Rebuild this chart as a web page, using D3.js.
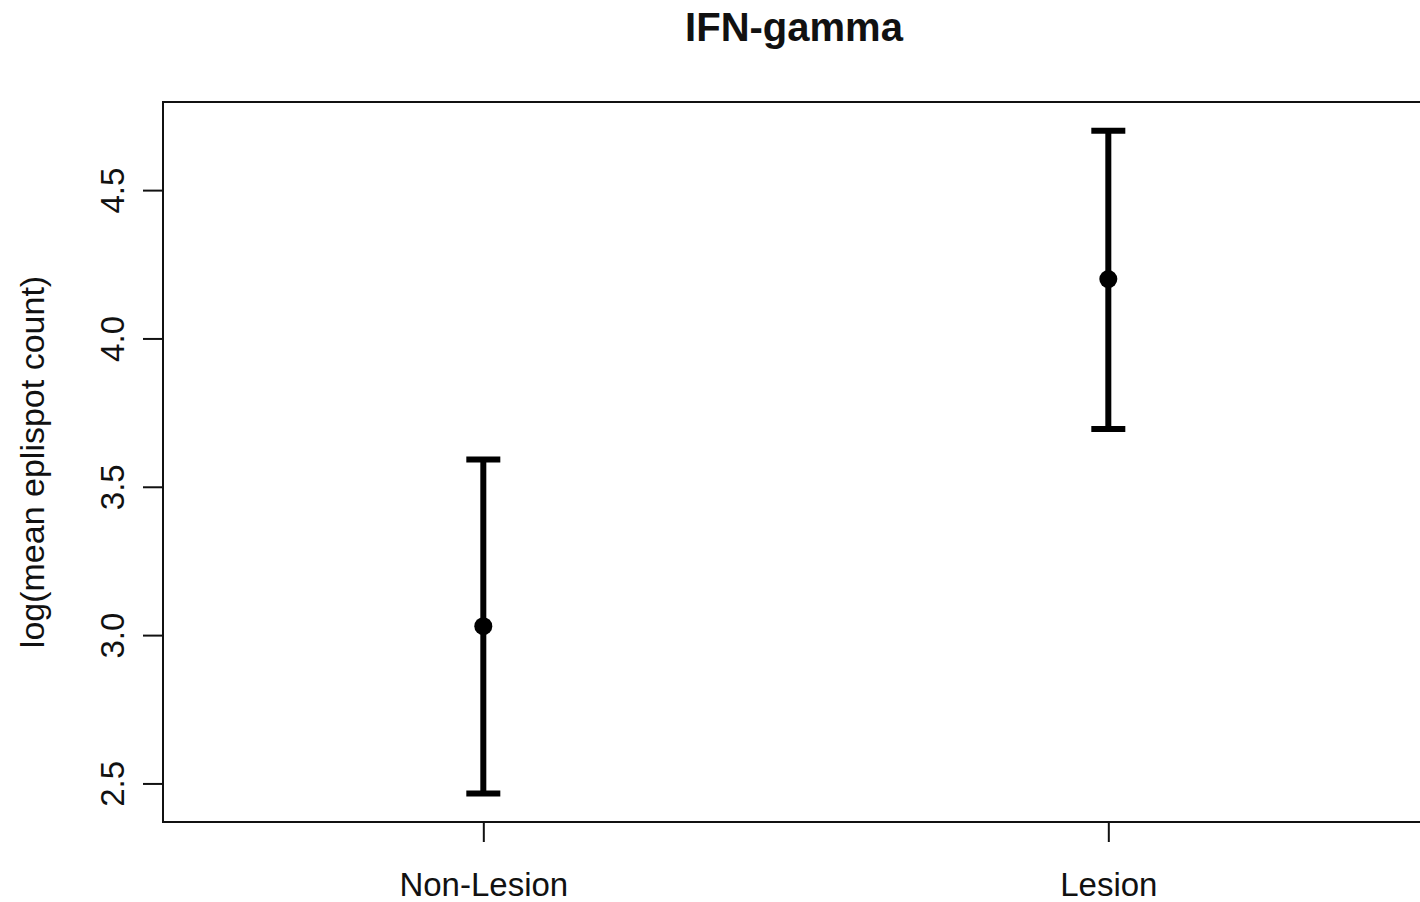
<!DOCTYPE html>
<html>
<head>
<meta charset="utf-8">
<script src="https://cdn.jsdelivr.net/npm/d3@7"></script>
<style>
  html, body { margin: 0; padding: 0; background: #fff; }
  svg { display: block; }
  text { font-family: "Liberation Sans", Arial, sans-serif; fill: #111; }
</style>
</head>
<body>
<svg id="chart" width="1420" height="902"></svg>
<script>
// Group means of log ELISpot counts with their interval bounds
const categories = ["Non-Lesion", "Lesion"];
const means = [3.03, 4.20];
const lower = [2.466, 3.695];
const upper = [3.592, 4.700];
const yTicks = [2.5, 3.0, 3.5, 4.0, 4.5];

const title = "IFN-gamma";
const yLabel = "log(mean eplispot count)";

const svg = d3.select("#chart");
const box = { left: 163, right: 1421, top: 102, bottom: 822 };

const x = d3.scaleLinear()
  .domain([-0.5125, 1.4955])
  .range([box.left, 1418]);
const y = d3.scaleLinear()
  .domain([2.370, 4.797])
  .range([box.bottom, box.top]);

// Plot frame
svg.append("rect")
  .attr("x", box.left).attr("y", box.top)
  .attr("width", box.right - box.left).attr("height", box.bottom - box.top)
  .attr("fill", "none").attr("stroke", "#111").attr("stroke-width", 2);

// Y axis: ticks outside the frame, labels rotated
const yAxis = d3.axisLeft(y).tickValues(yTicks).tickSize(20).tickFormat(d3.format(".1f"));
const gy = svg.append("g").attr("transform", `translate(${box.left},0)`).call(yAxis);
gy.select(".domain").remove();
gy.selectAll(".tick line").attr("stroke", "#111").attr("stroke-width", 2);
gy.selectAll(".tick text")
  .attr("x", null).attr("dy", null)
  .attr("transform", "translate(-39,0) rotate(-90)")
  .attr("text-anchor", "middle")
  .style("font-size", "33px")
  .style("font-family", "Liberation Sans, Arial, sans-serif")
  .attr("fill", "#111");

// X axis: category ticks
const xAxis = d3.axisBottom(x).tickValues(d3.range(categories.length))
  .tickSize(20).tickFormat(i => categories[i]);
const gx = svg.append("g").attr("transform", `translate(0,${box.bottom})`).call(xAxis);
gx.select(".domain").remove();
gx.selectAll(".tick line").attr("stroke", "#111").attr("stroke-width", 2);
gx.selectAll(".tick text")
  .attr("y", 74).attr("dy", null)
  .style("font-size", "33px")
  .style("font-family", "Liberation Sans, Arial, sans-serif")
  .attr("fill", "#111");

// Error bars
const capHalf = 17;
const bars = svg.append("g").selectAll("g")
  .data(categories.map((c, i) => ({ c, i, m: means[i], lo: lower[i], hi: upper[i] })))
  .join("g");

bars.append("line")
  .attr("x1", d => x(d.i)).attr("x2", d => x(d.i))
  .attr("y1", d => y(d.lo)).attr("y2", d => y(d.hi))
  .attr("stroke", "#000").attr("stroke-width", 6);
bars.append("line")
  .attr("x1", d => x(d.i) - capHalf).attr("x2", d => x(d.i) + capHalf)
  .attr("y1", d => y(d.hi)).attr("y2", d => y(d.hi))
  .attr("stroke", "#000").attr("stroke-width", 6);
bars.append("line")
  .attr("x1", d => x(d.i) - capHalf).attr("x2", d => x(d.i) + capHalf)
  .attr("y1", d => y(d.lo)).attr("y2", d => y(d.lo))
  .attr("stroke", "#000").attr("stroke-width", 6);
bars.append("circle")
  .attr("cx", d => x(d.i)).attr("cy", d => y(d.m))
  .attr("r", 9).attr("fill", "#000");

// Title
svg.append("text")
  .attr("x", 794).attr("y", 41)
  .attr("text-anchor", "middle")
  .style("font-size", "40px").style("font-weight", "bold")
  .text(title);

// Y axis title
svg.append("text")
  .attr("transform", `translate(44,${(box.top + box.bottom) / 2}) rotate(-90)`)
  .attr("text-anchor", "middle")
  .style("font-size", "34px")
  .text(yLabel);
</script>
</body>
</html>
